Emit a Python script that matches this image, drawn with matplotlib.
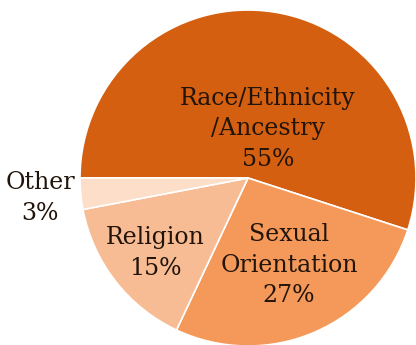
import matplotlib.pyplot as plt

# hate crime bias categories, share of incidents (%)
categories = ['Race/Ethnicity\n/Ancestry', 'Sexual\nOrientation', 'Religion', 'Other']
shares = [55, 27, 15, 3]
colors = ['#D45F10', '#F4995A', '#F8BC94', '#FCDEC9']

# where each label sits (pixel coords, y measured from the top)
label_pos = [(268, 129), (289, 265), (155, 253), (40, 198)]

W, H = 416, 345
fig = plt.figure(figsize=(W / 100, H / 100), dpi=100)
ax = fig.add_axes([0, 0, 1, 1])
ax.axis('off')

ax.pie(shares, colors=colors, startangle=180, counterclock=False,
       center=(248, H - 178), radius=168,
       wedgeprops=dict(edgecolor='white', linewidth=1.2))
ax.set_xlim(0, W)
ax.set_ylim(0, H)
ax.set_aspect('equal')

for name, val, (x, y) in zip(categories, shares, label_pos):
    ax.text(x, H - y, f'{name}\n{val}%', ha='center', va='center',
            fontsize=17, family='DejaVu Serif', color='#22140A',
            linespacing=1.42)

fig.savefig('out.png', dpi=100)
